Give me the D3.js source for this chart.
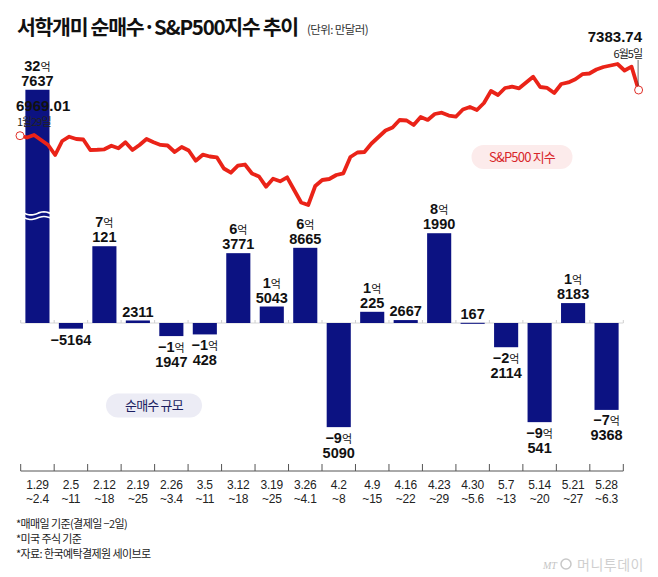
<!DOCTYPE html>
<html>
<head>
<meta charset="utf-8">
<script src="https://cdn.jsdelivr.net/npm/d3@7"></script>
<style>
body { margin: 0; background: #fff; }
svg { display: block; }
.num { font-family: 'Liberation Sans Narrow', 'Arial Narrow', 'Liberation Sans', Arial, sans-serif; }
.kr { font-family: 'Noto Sans CJK KR', 'Noto Sans', sans-serif; }
</style>
</head>
<body>
<div id="chart"></div>
<script>
// weekly buckets (trade date basis)
const weekStart = ["1.29","2.5","2.12","2.19","2.26","3.5","3.12","3.19","3.26","4.2","4.9","4.16","4.23","4.30","5.7","5.14","5.21","5.28"]
const weekEnd = ["~2.4","~11","~18","~25","~3.4","~11","~18","~25","~4.1","~8","~15","~22","~29","~5.6","~13","~20","~27","~6.3"]
// net buying, unit: 만달러
const netBuy = [327637,-5164,70121,2311,-11947,-10428,63771,15043,68665,-95090,10225,2667,81990,167,-22114,-90541,18183,-79368]

// S&P500 daily close, 1/29 ~ 6/5
const spx = [6969.01,6952.7,6975.4,6930.0,6884.6,6793.9,6920.9,6959.9,6939.1,6934.5,
  6839.2,6841.5,6845.6,6878.3,6854.7,6909.1,6839.2,6884.6,6939.1,6909.1,
  6885.0,6880.1,6821.1,6866.5,6834.7,6742.1,6796.6,6780.2,6773.0,6671.3,
  6633.2,6696.7,6707.6,6626.0,6598.7,6506.2,6578.8,6555.2,6591.5,6476.2,
  6362.8,6340.1,6512.5,6567.0,6576.1,6612.4,6627.8,6775.7,6816.5,6821.1,
  6898.2,6957.2,7016.2,7043.4,7111.5,7106.9,7066.1,7138.7,7112.0,7165.9,
  7177.7,7152.3,7141.4,7206.8,7229.5,7202.2,7265.8,7374.7,7338.4,7401.9,
  7413.7,7399.2,7451.8,7504.4,7411.0,7402.5,7356.5,7438.2,7452.3,7480.8,
  7527.1,7533.5,7569.8,7592.5,7606.1,7619.7,7560.7,7595.2,7383.74]
const spxFirst = {value: "6969.01", date: "1월29일"}
const spxLast = {value: "7383.74", date: "6월5일"}

const notes = ["*매매일 기준(결제일 −2일)", "*미국 주식 기준", "*자료: 한국예탁결제원 세이브로"]

const width = 658
const height = 577

const svg = d3.select("#chart")
  .append("svg")
  .attr("width", width)
  .attr("height", height)

// title
svg.append("text")
  .attr("class", "kr")
  .attr("x", 17)
  .attr("y", 35)
  .attr("font-size", 20.5)
  .attr("font-weight", 700)
  .attr("letter-spacing", -1.3)
  .attr("fill", "#111")
  .text("서학개미 순매수·S&P500지수 추이")

svg.append("text")
  .attr("class", "kr")
  .attr("x", 307)
  .attr("y", 34)
  .attr("font-size", 11.5)
  .attr("letter-spacing", -0.6)
  .attr("fill", "#333")
  .text("(단위: 만달러)")

// scales
const x = d3.scaleBand()
  .domain(weekStart)
  .range([20.7, 623.3])
  .padding(0)
const barW = x.bandwidth() * 0.72

const y = d3.scaleLinear()
  .domain([0, 100000])
  .range([323, 213.5])

// the first bar is cut
const capAt = 213000
const breakAt = 98000

const xl = d3.scaleLinear()
  .domain([0, spx.length - 1])
  .range([20, 638.6])
const yl = d3.scaleLinear()
  .domain([6969.01, 7383.74])
  .range([135.7, 90])

// zero line
const zero = svg.append("g")
zero.append("line")
  .attr("x1", x.range()[0]).attr("x2", x.range()[1])
  .attr("y1", y(0)).attr("y2", y(0))
  .attr("stroke", "#d6d6d6")
  .attr("stroke-width", 1)
const bounds = weekStart.map(d => x(d)).concat([x.range()[1]])
zero.selectAll("line.tk")
  .data(bounds)
  .enter()
  .append("line")
  .attr("class", "tk")
  .attr("x1", d => d).attr("x2", d => d)
  .attr("y1", y(0) - 3).attr("y2", y(0))
  .attr("stroke", "#cfcfcf")

// bars
const shown = v => Math.min(v, capAt)
svg.append("g")
  .selectAll("rect")
  .data(netBuy)
  .enter()
  .append("rect")
  .attr("x", (d, i) => x(weekStart[i]) + (x.bandwidth() - barW) / 2)
  .attr("width", barW)
  .attr("y", d => d >= 0 ? y(shown(d)) : y(0))
  .attr("height", d => Math.max(1, Math.abs(y(shown(d)) - y(0))))
  .attr("fill", "#0c1282")

// wavy break on the cut bar
const cut = netBuy.findIndex(v => v > capAt)
if (cut >= 0) {
  const x0 = x(weekStart[cut]) + (x.bandwidth() - barW) / 2 - 1
  const pts = d3.range(0, 13).map(k => [x0 + k * (barW + 2) / 12, Math.sin(k / 12 * Math.PI * 2) * 1.6])
  const wave = d3.line().curve(d3.curveBasis)
  ;[-2.3, 2.3].forEach(off => {
    svg.append("path")
      .attr("d", wave(pts.map(p => [p[0], y(breakAt) + off + p[1]])))
      .attr("fill", "none")
      .attr("stroke", "#fff")
      .attr("stroke-width", 1.6)
  })
}

// bar labels
function parts(v) {
  const a = Math.abs(v)
  const eok = Math.floor(a / 10000)
  const rest = a % 10000
  const sign = v < 0 ? "−" : ""
  return eok ? [sign + eok, String(rest)] : [null, sign + rest]
}
const lab = svg.append("g")
netBuy.forEach((v, i) => {
  const cx = x(weekStart[i]) + x.bandwidth() / 2
  const p = parts(v)
  let b1, b2
  if (v >= 0) {
    const top = y(shown(v))
    b2 = top - 3.8
    b1 = top - 19
  } else {
    const bot = y(v)
    if (p[0]) { b1 = bot + 15.5; b2 = bot + 30.5 } else { b2 = bot + 16 }
  }
  if (p[0]) {
    const t = lab.append("text")
      .attr("class", "num")
      .attr("x", cx).attr("y", b1)
      .attr("text-anchor", "middle")
      .attr("font-size", 14.5)
      .attr("font-weight", 700)
      .attr("fill", "#111")
    t.append("tspan").text(p[0])
    t.append("tspan").attr("class", "kr").attr("font-size", 11).attr("font-weight", 400).text("억")
  }
  lab.append("text")
    .attr("class", "num")
    .attr("x", cx).attr("y", b2)
    .attr("text-anchor", "middle")
    .attr("font-size", 14.5)
    .attr("font-weight", 700)
    .attr("fill", "#111")
    .text(p[1])
})

// S&P500 line
const line = d3.line()
  .x((d, i) => xl(i))
  .y(d => yl(d))
svg.append("path")
  .datum(spx)
  .attr("d", line)
  .attr("fill", "none")
  .attr("stroke", "#ea2318")
  .attr("stroke-width", 3.8)
  .attr("stroke-linejoin", "round")

const last = spx.length - 1
svg.append("line")
  .attr("x1", xl(last) - 0.5).attr("x2", xl(last) - 0.5)
  .attr("y1", 60).attr("y2", yl(spx[last]) - 4)
  .attr("stroke", "#444")
  .attr("stroke-width", 0.8)

svg.selectAll("circle.end")
  .data([0, last])
  .enter()
  .append("circle")
  .attr("class", "end")
  .attr("cx", d => xl(d))
  .attr("cy", d => yl(spx[d]))
  .attr("r", 4)
  .attr("fill", "#fff")
  .attr("stroke", "#e0312a")
  .attr("stroke-width", 1)

// first / last labels
svg.append("text").attr("class", "num")
  .attr("x", 16).attr("y", 110.5)
  .attr("font-size", 15).attr("font-weight", 700).attr("fill", "#111")
  .text(spxFirst.value)
svg.append("text").attr("class", "kr")
  .attr("x", 17).attr("y", 126)
  .attr("font-size", 11).attr("letter-spacing", -1).attr("fill", "#222")
  .text(spxFirst.date)
svg.append("text").attr("class", "num")
  .attr("x", 642).attr("y", 41.5)
  .attr("text-anchor", "end")
  .attr("font-size", 15).attr("font-weight", 700).attr("fill", "#111")
  .text(spxLast.value)
svg.append("text").attr("class", "kr")
  .attr("x", 642).attr("y", 57.5)
  .attr("text-anchor", "end")
  .attr("font-size", 11).attr("letter-spacing", -1).attr("fill", "#222")
  .text(spxLast.date)

// legend pills
function pill(cx, cy, w, h, bg, fg, label) {
  svg.append("rect")
    .attr("x", cx - w / 2).attr("y", cy - h / 2)
    .attr("width", w).attr("height", h)
    .attr("rx", h / 2)
    .attr("fill", bg)
  svg.append("text").attr("class", "kr")
    .attr("x", cx).attr("y", cy + 4.5)
    .attr("text-anchor", "middle")
    .attr("font-size", 13).attr("letter-spacing", -0.8)
    .attr("fill", fg)
    .text(label)
}
pill(522, 157, 101, 24, "#fcebeb", "#d8262a", "S&P500 지수")
pill(154, 405.5, 96, 24, "#ececf5", "#1b1e62", "순매수 규모")

// bottom axis
const axisY = 471
const ax = svg.append("g")
ax.append("line")
  .attr("x1", x.range()[0]).attr("x2", x.range()[1])
  .attr("y1", axisY).attr("y2", axisY)
  .attr("stroke", "#555")
ax.selectAll("line.tk")
  .data(bounds)
  .enter()
  .append("line")
  .attr("class", "tk")
  .attr("x1", d => d).attr("x2", d => d)
  .attr("y1", axisY - 7).attr("y2", axisY)
  .attr("stroke", "#555")

const xlab = ax.selectAll("text")
  .data(weekStart)
  .enter()
  .append("text")
  .attr("font-family", "'Liberation Sans', Arial, sans-serif")
  .attr("text-anchor", "middle")
  .attr("font-size", 12)
  .attr("letter-spacing", -0.2)
  .attr("fill", "#222")
xlab.append("tspan")
  .attr("x", d => x(d) + x.bandwidth() / 2)
  .attr("y", 488.5)
  .text(d => d)
xlab.append("tspan")
  .attr("x", d => x(d) + x.bandwidth() / 2)
  .attr("y", 503)
  .text((d, i) => weekEnd[i])

// footnotes
svg.append("g")
  .selectAll("text")
  .data(notes)
  .enter()
  .append("text")
  .attr("class", "kr")
  .attr("x", 16)
  .attr("y", (d, i) => 528 + i * 15)
  .attr("font-size", 11)
  .attr("letter-spacing", -0.6)
  .attr("fill", "#222")
  .text(d => d)

// watermark
svg.append("text")
  .attr("x", 543).attr("y", 569)
  .attr("font-family", "Liberation Serif, serif")
  .attr("font-style", "italic")
  .attr("font-size", 10)
  .attr("fill", "#c4c4c4")
  .text("MT")
svg.append("circle")
  .attr("cx", 566).attr("cy", 564)
  .attr("r", 5)
  .attr("fill", "none")
  .attr("stroke", "#c8c8c8")
  .attr("stroke-width", 1.5)
svg.append("text").attr("class", "kr")
  .attr("x", 577).attr("y", 569.5)
  .attr("font-size", 14)
  .attr("letter-spacing", 0.5)
  .attr("fill", "#cfcfcf")
  .text("머니투데이")
</script>
</body>
</html>
